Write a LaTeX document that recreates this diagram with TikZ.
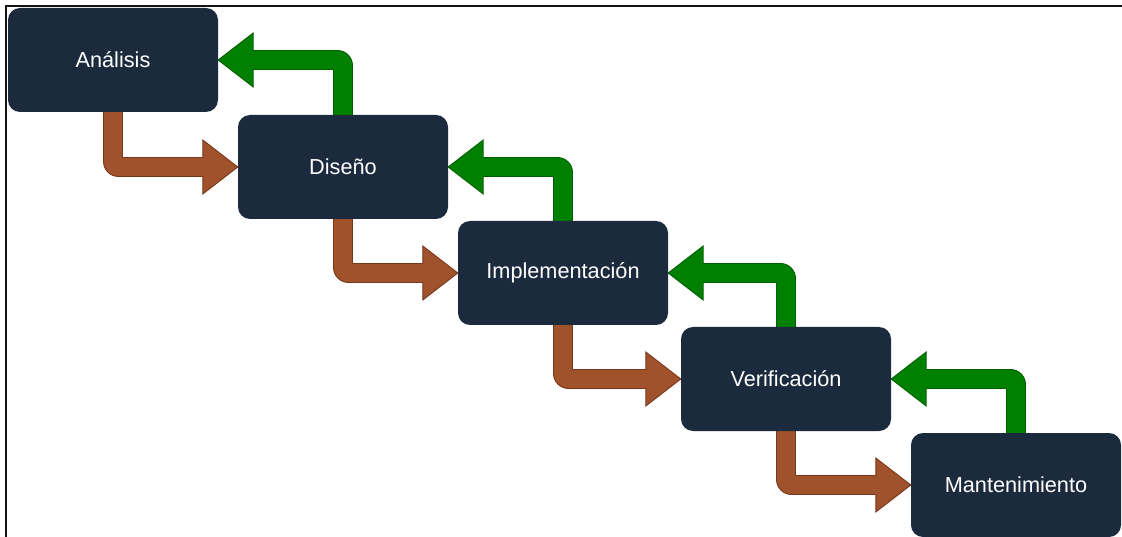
\documentclass[tikz,border=0pt]{standalone}
\usepackage{fontspec}
\newfontfamily\labelfont{Liberation Sans}
\usetikzlibrary{calc,backgrounds}

\definecolor{boxnavy}{RGB}{27,43,61}
\definecolor{fwdfill}{RGB}{160,82,45}
\definecolor{fwdline}{RGB}{122,56,26}
\definecolor{backfill}{RGB}{0,128,0}
\definecolor{backline}{RGB}{0,96,0}
\definecolor{framegray}{RGB}{20,20,20}

% arrow geometry
\def\shaftw{9.5pt}   % half width of the shaft
\def\headw{27pt}     % half width of the head
\def\headl{35pt}     % length of the head
\def\bendr{15pt}     % radius of the outer bend

\tikzset{
  phase/.style={rectangle, rounded corners=12pt, fill=boxnavy,
    minimum width=210pt, minimum height=104pt, inner sep=0pt,
    text=white, font=\labelfont\fontsize{21.7pt}{25pt}\selectfont},
  fwdarrow/.style={fill=fwdfill, draw=fwdline, line width=0.9pt, line join=miter},
  backarrow/.style={fill=backfill, draw=backline, line width=0.9pt, line join=miter},
  frameline/.style={draw=framegray, line width=2pt}
}

% forward step: down from the bottom of #1, then right into the left side of #2
\newcommand\stepdown[2]{%
  \path[fwdarrow] let \p1=(#1.south), \p2=(#2.west) in
    (\x1-\shaftw,\y1+1pt) -- (\x1-\shaftw,\y2-\shaftw+\bendr)
    arc[start angle=180,end angle=270,radius=\bendr]
    -- (\x2-\headl,\y2-\shaftw) -- (\x2-\headl,\y2-\headw) -- (\x2,\y2)
    -- (\x2-\headl,\y2+\headw) -- (\x2-\headl,\y2+\shaftw)
    -- (\x1+\shaftw,\y2+\shaftw) -- (\x1+\shaftw,\y1+1pt) -- cycle;}

% feedback: up from the top of #1, then left into the right side of #2
\newcommand\stepback[2]{%
  \path[backarrow] let \p1=(#1.north), \p2=(#2.east) in
    (\x1+\shaftw,\y1-1pt) -- (\x1+\shaftw,\y2+\shaftw-\bendr)
    arc[start angle=0,end angle=90,radius=\bendr]
    -- (\x2+\headl,\y2+\shaftw) -- (\x2+\headl,\y2+\headw) -- (\x2,\y2)
    -- (\x2+\headl,\y2-\headw) -- (\x2+\headl,\y2-\shaftw)
    -- (\x1-\shaftw,\y2-\shaftw) -- (\x1-\shaftw,\y1-1pt) -- cycle;}

\begin{document}
\begin{tikzpicture}
\useasboundingbox (0pt,0pt) rectangle (1122pt,-537pt);

% phases
\node[phase] (ana) at (113pt,-60pt)  {Análisis};
\node[phase] (dis) at (343pt,-167pt) {Diseño};
\node[phase] (imp) at (563pt,-273pt) {Implementación};
\node[phase] (ver) at (786pt,-379pt) {Verificación};
\node[phase] (man) at (1016pt,-485pt) {Mantenimiento};

\begin{pgfonlayer}{background}
  \fill[white] (0pt,0pt) rectangle (1122pt,-537pt);
  % outer frame (top and left edges)
  \coordinate (ftl) at (6pt,-6pt);
  \coordinate (ftr) at (1122pt,-6pt);
  \coordinate (fbl) at (6pt,-537pt);
  \draw[frameline] (ftr) -- (ftl) -- (fbl);
  % forward steps
  \stepdown{ana}{dis}
  \stepdown{dis}{imp}
  \stepdown{imp}{ver}
  \stepdown{ver}{man}
  % feedback steps
  \stepback{dis}{ana}
  \stepback{imp}{dis}
  \stepback{ver}{imp}
  \stepback{man}{ver}
\end{pgfonlayer}
\end{tikzpicture}
\end{document}
